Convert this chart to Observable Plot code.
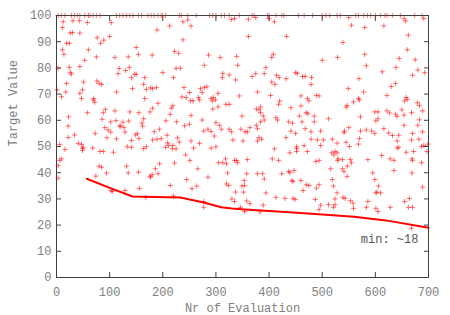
<!DOCTYPE html>
<html><head><meta charset="utf-8">
<script src="https://cdn.jsdelivr.net/npm/d3@7"></script>
<script src="https://cdn.jsdelivr.net/npm/@observablehq/plot@0.6"></script>
<style>html,body{margin:0;padding:0;background:#fff;} svg{display:block;}</style>
</head><body><div id="chart"></div>
<script>
// evaluations whose target value hit the ceiling (100)
const topEvals = [3,9,16,28,34,39,44,53,60,63,69,75,82,113,119,125,132,138,144,154,160,172,
  178,184,191,197,200,205,231,235,247,263,288,294,300,310,316,325,344,
  368,372,397,400,413,424,428,455,466,482,500,507,514,
  528,534,563,568,578,585,591,600,610,618,622,632,647,674,688];
const topValue = 100;

// [evaluation number, target value]
const samples = [
  [11,95.4],[30,93.5],[26,93.3],[44,93.3],[43,98],[58,97.3],[31,98],[12.5,97.6],[100,92],[103,97.3],[76.5,91.5],[89,90.6],[83,89.4],[19,89.4],[24,89.4],[11,86.9],[14,85.2],[60,86.9],[75,84.2],[110,84],[135,84.2],[150,87.8],[154,85.2],[53,82.9],[3,79.8],[24,80.2],[26,78.3],[28,77.6],[44,80.5],[118,79.8],[116,77.8],[137,80.2],[130,79],[147,77.6],[150,77.6],[141,76.3],[166,76.3],[19,74.1],[51,74.6],[76,75],[80,74.1],[85,73.7],[164,73.7],[169,71.8],[177,72.4],[113,70.8],[143,72.1],[49,71.6],[44,70.3],[47,68.3],[17.5,70.8],[9.4,69],[1,71.6],[70,68.3],[72,66.9],[69,67.7],[166,68.3],[58,62.9],[92,64.2],[88,62.9],[86,60.4],[110,63.6],[138,63.2],[136,59.7],[125,59.3],[121,57.8],[155,62.9],[164,60.6],[161,59],[162,57.8],[102,59.4],[112,59.9],[119,57.8],[22.6,61.3],[22,57.8],[91,57.2],[97,56.3],[102,55.5],[127,57.2],[129,55.5],[152,54.9],[149,54.4],[73,55],[34,54.4],[22,53.4],[95,53.3],[113,52.9],[141,52.3],[155,53],[41,51.2],[47,50.8],[49,49.2],[6,50.8],[133,49.9],[164,49.2],[169,49.9],
  [16,48.9],[49,48.5],[68,49.4],[50,49.7],[82,48.1],[88,48.1],[107,47.8],[141,49.7],[9,45.3],[6,44.7],[3,42.7],[80,42.5],[85,42.1],[132,42.5],[135,39.9],[94,39.9],[154,40.2],[74,38.7],[176,38.7],[3,37.9],[103,33.2],[105,32.8],[129,33.2],[156,34],[168,30.5],
  [238,97.6],[247,98.3],[253,96],[213,96],[189,94.5],[329,98.5],[335,98.8],[238,90.7],[180,84.9],[222,86.3],[230,85.6],[286,84.9],[308,84],[339,84.4],[341,81],[278,81],[200,78.2],[225,79.8],[233,79.9],[220,76.3],[313,77.9],[312,76.3],[325,77.3],[337,75.4],[181,72.1],[188,72.5],[240,72.5],[271,72.1],[278,72.5],[283,72.8],[250,70.6],[304,70.3],[274,70.6],[344,69.3],[236,68.9],[244,68.7],[267,68.7],[291,68.3],[295,68.7],[299,67.8],[293,67.4],[252,67.4],[257,67.4],[269,67.8],[319,66.1],[325,66.1],[191,66.5],[219,65.5],[216,64.6],[181,64.6],[176,63.2],[294,64.3],[304,65.1],[214,62.3],[253,61.9],[349,61.6],[206,59.8],[226,59.4],[274,60.1],[300,59.1],[307,58.1],[250,58.5],[241,57.9],[325,56.6],[329,55.6],[347,56.6],[184,55.6],[194,56.6],[277,55.9],[285,56.6],[291,55.7],[310,56.6],[208,54.3],[228,53.3],[231,51.7],[181,52.5],[189,52.8],[197,53],[209,51.4],[211,50.4],[253,52.1],[269,51.2],[297,54],[332,52.5],[351,52.1],[300,49.9],[219,50.4],
  [205,49.7],[218,49.1],[225,49.1],[258,49.4],[291,49.4],[243,46.8],[194,43.4],[186,41.5],[180,39.2],[191,39.6],[177,38.3],[222,43.7],[251,44.7],[266,41.5],[305,43.8],[313,43.8],[318,45.3],[320,43.4],[322,39.9],[335,44.7],[339,44.7],[341,43.8],[245,37.4],[255,33.9],[264,34.9],[285,38.3],[214,35.1],[220,31.1],[277,29],[277,26.8],[320,35.7],[324,35.1],[349,34.9],[352,32.6],[354,35.1],[330,30],[335,29],[337,32.6],[354,25.2],[346,26.8],
  [361,98.6],[375,99.2],[410,97.6],[400,98.8],[361,92],[433,92],[408,85.2],[405,84],[529,84],[500,82.9],[394,80.1],[391,77.8],[375,77.8],[368,76.7],[414,77.2],[419,76.3],[432,75.9],[450,78.2],[453,77.9],[463,76.7],[468,76.8],[480,76.3],[405,74.6],[411,73.7],[479,73.7],[378,70.8],[403,69.5],[460,69.3],[489,69.5],[494,69.3],[472,68.3],[475,67.4],[420,67.4],[418,66.1],[384,65.1],[381,64],[376,64.3],[441,64.8],[460,65.5],[470,62.9],[473,62.5],[384,62.9],[389,61.6],[413,61],[416,60.1],[457,61.6],[485,61.6],[485,59.4],[512,60.6],[391,60.1],[384,59.4],[437,59.4],[444,58.9],[462,59.4],[376,58.1],[378,56.8],[364,57.2],[359,55.6],[355,55.6],[441,55.9],[450,55],[468,56.8],[479,55.6],[497,55.9],[381,53.4],[386,52.8],[378,52.1],[432,53.4],[452,49.9],[452,49.2],[466,50.3],[479,52.8],[491,52.5],[502,52.5],[519,52.8],[497,50.4],
  [410,49.1],[452,48.1],[472,48.1],[518,47.6],[522,46.8],[524,48.1],[359,45],[406,45.3],[418,44.7],[439,47.6],[488,44.3],[494,44.7],[529,44.7],[516,41.5],[378,39.6],[388,39.6],[391,37.6],[358,39.6],[424,39.6],[437,40.5],[439,40],[447,40.8],[443,37],[445,36.6],[460,37],[353,37],[470,35.4],[475,35.1],[494,35.4],[489,34.1],[519,37.4],[521,34.9],[464,33.2],[394,32.3],[413,30.6],[430,30.2],[445,30.2],[449,29.8],[487,29.8],[524,30],[524,27.8],[512,27.8],[358,29.2],[364,28.2],[497,27.6],[494,26],[389,27.6],[383,25],[521,26.8],
  [550,99.2],[580,95.4],[555,96.3],[616,96],[654,98.8],[657,97.9],[691,98.8],[662,92.5],[539,89.7],[660,86.9],[580,85.2],[645,83.6],[675,83.1],[583,80.8],[639,80.2],[613,78.5],[680,79.2],[693,78.2],[670,77.2],[569,75.9],[638,74.1],[630,72.9],[549,72.1],[578,70.8],[622,69.5],[568,68.3],[570,67.8],[559,67],[658,68.7],[655,67.4],[660,68],[679,66.7],[683,65.6],[547,65.6],[545,65],[599,63.2],[605,63.2],[622,63.6],[627,62.8],[638,62.3],[641,61.5],[650,64],[654,62],[668,62.9],[689,63.6],[572,61.3],[605,60.6],[601,59.8],[683,60.2],[680,58.1],[550,57.2],[542,55.9],[541,55.3],[572,55.9],[583,56.3],[593,55.9],[599,55],[616,56.8],[654,58.1],[670,55],[689,55.6],[625,55.2],[632,54.2],[570,53],[641,52.1],[644,54.3],[668,52.5],[682,52.8],[545,51.6],[528,51.3],[568,50.9],[551,50],[699,50.9],[687,50],
  [641,49.4],[644,49.7],[658,47.8],[672,48.1],[691,50.4],[697,48.1],[528,47.6],[530,45.3],[538,45],[553,45],[555,43.8],[586,45],[612,46.6],[628,45.3],[635,44.7],[669,45.3],[670,44.7],[687,43.8],[538,41.5],[547,42.5],[541,40.4],[595,39.9],[635,40.8],[669,39.9],[547,38.6],[599,37.4],[606,34.9],[603,32.6],[601,32.3],[610,32.3],[689,34.5],[539,30.6],[543,30.2],[553,29.3],[558,28.4],[559,26.4],[528,32.3],[586,29],[583,26.8],[601,26.4],[605,25.2],[628,26.8],[655,29],[664,30.2],[662,26.8],[670,26.8],[668,18.8]
];

// running-minimum curve
const minEvals  = [57, 100, 143, 233, 275, 310, 330, 354, 431, 500, 560, 620, 700];
const minValues = [37.7, 34.2, 30.9, 30.5, 28.7, 26.8, 26.3, 26.0, 25.0, 24.0, 23.2, 21.8, 19.0];

const xTicks = [0,100,200,300,400,500,600,700];
const yTicks = [0,10,20,30,40,50,60,70,80,90,100];
const minLabel = "min: ~18";
const xTitle = "Nr of Evaluation";
const yTitle = "Target Value";

const points = samples.map(([e, v]) => ({e, v})).concat(topEvals.map(e => ({e, v: topValue})));
const curve = minEvals.map((e, i) => ({e, v: minValues[i]}));

const plusSymbol = {
  draw(ctx, size) {
    const r = Math.sqrt(size / Math.PI);
    ctx.moveTo(-r, 0); ctx.lineTo(r, 0);
    ctx.moveTo(0, -r); ctx.lineTo(0, r);
  }
};

const axisColor = "#404040";
const textColor = "#808080";

const chart = Plot.plot({
  width: 450,
  height: 315,
  marginLeft: 56,
  marginRight: 22,
  marginTop: 15,
  marginBottom: 38,
  style: {fontFamily: "'Liberation Mono', 'DejaVu Sans Mono', monospace", fontSize: "12px", background: "#fff"},
  x: {domain: [0, 700]},
  y: {domain: [0, 100]},
  marks: [
    Plot.axisX({anchor: "bottom", ticks: xTicks, tickSize: 5, dy: -5, fill: "none", label: null, stroke: axisColor}),
    Plot.axisX({anchor: "top", ticks: xTicks, tickSize: 5, dy: 5, fill: "none", label: null, stroke: axisColor}),
    Plot.axisY({anchor: "left", ticks: yTicks, tickSize: 5, dx: 5, fill: "none", label: null, stroke: axisColor}),
    Plot.axisY({anchor: "right", ticks: yTicks, tickSize: 5, dx: -5, fill: "none", label: null, stroke: axisColor}),
    Plot.axisX({anchor: "bottom", ticks: xTicks, tickSize: 0, tickPadding: 10, label: null, fill: textColor, tickFormat: d => String(d)}),
    Plot.axisY({anchor: "left", ticks: yTicks, tickSize: 0, tickPadding: 5, label: null, fill: textColor, tickFormat: d => String(d)}),
    Plot.dot(points, {x: "e", y: "v", symbol: plusSymbol, r: 2.6, fill: "none", stroke: "#ff0000", strokeOpacity: 0.55, strokeWidth: 1}),
    Plot.line(curve, {x: "e", y: "v", stroke: "#ff0000", strokeWidth: 2}),
    Plot.text([minLabel], {x: 681, y: 14.5, text: d => d, textAnchor: "end", fill: "#555", fontSize: 12}),
    Plot.text([xTitle], {frameAnchor: "bottom", dy: 34, text: d => d, fill: textColor}),
    Plot.text([yTitle], {frameAnchor: "left", dx: -43, rotate: -90, text: d => d, fill: textColor}),
    Plot.frame({stroke: axisColor})
  ]
});
document.getElementById("chart").appendChild(chart);
</script>
</body></html>
